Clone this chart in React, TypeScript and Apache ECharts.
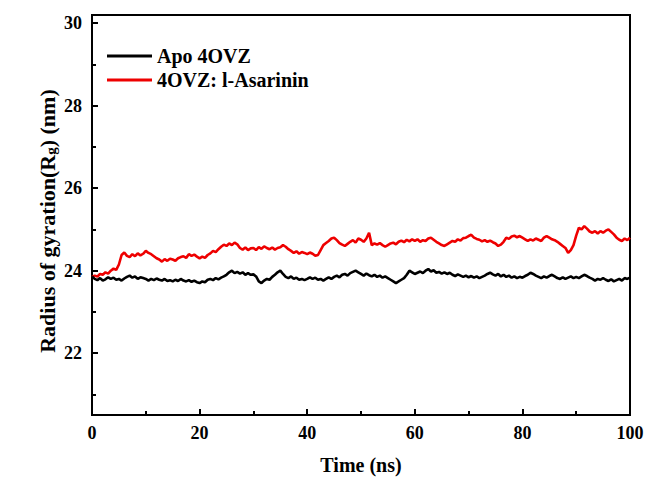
import React, { useEffect, useRef } from "react";
import * as echarts from "echarts";

const timeStep = 0.5; // ns between samples

const apoValues = [
  23.86, 23.8, 23.77, 23.82, 23.76, 23.79, 23.84, 23.8, 23.83, 23.78,
  23.8, 23.76, 23.81, 23.85, 23.88, 23.83, 23.86, 23.8, 23.84, 23.82,
  23.8, 23.76, 23.8, 23.77, 23.81, 23.78, 23.76, 23.8, 23.75, 23.77,
  23.74, 23.78, 23.75, 23.8, 23.76, 23.74, 23.77, 23.73, 23.76, 23.72,
  23.7, 23.74, 23.72, 23.78, 23.8, 23.77, 23.82, 23.79, 23.83, 23.86,
  23.9, 23.96, 24.0, 23.94, 23.97, 23.93, 23.96, 23.9, 23.94, 23.9,
  23.91, 23.86, 23.74, 23.7, 23.76, 23.8, 23.78, 23.85, 23.9, 23.96,
  24.0, 23.92, 23.85, 23.82, 23.86, 23.8, 23.83, 23.78, 23.8, 23.77,
  23.8, 23.84, 23.8, 23.83, 23.78, 23.8, 23.76, 23.8, 23.84, 23.8,
  23.85, 23.88, 23.84, 23.9, 23.92, 23.88, 23.94, 23.97, 24.0, 23.96,
  23.92, 23.88, 23.93, 23.89, 23.86, 23.9, 23.85, 23.88, 23.83, 23.86,
  23.82, 23.78, 23.74, 23.7, 23.74, 23.78, 23.82, 23.9, 24.0, 23.96,
  23.92, 23.95, 23.98, 23.94, 24.0, 24.04, 23.98, 24.01, 23.95, 23.97,
  23.93, 23.96, 23.92, 23.95, 23.9, 23.87, 23.91, 23.88, 23.85, 23.88,
  23.84, 23.87, 23.83, 23.86, 23.82, 23.85, 23.88, 23.92, 23.95, 23.91,
  23.88, 23.92, 23.86, 23.9, 23.85, 23.88, 23.83, 23.86, 23.82, 23.85,
  23.83, 23.87, 23.9, 23.95, 23.92, 23.88, 23.85, 23.82, 23.86, 23.83,
  23.87, 23.9, 23.86, 23.82, 23.8, 23.84, 23.8, 23.83, 23.86, 23.82,
  23.85, 23.82, 23.86, 23.9, 23.87, 23.83, 23.8, 23.76, 23.8, 23.78,
  23.82, 23.78, 23.75, 23.79, 23.74, 23.77, 23.8, 23.76, 23.82, 23.8,
  23.83,
];

const ligandValues = [
  23.85, 23.88, 23.86, 23.92, 23.9, 23.96, 23.93, 24.0, 24.05, 24.02,
  24.15, 24.38, 24.44, 24.36, 24.33, 24.4, 24.35, 24.42, 24.37, 24.41,
  24.48, 24.43, 24.4, 24.35, 24.3, 24.27, 24.22, 24.28, 24.24, 24.29,
  24.27, 24.24, 24.3, 24.33, 24.35, 24.31, 24.4, 24.36, 24.39, 24.34,
  24.3, 24.34, 24.31, 24.38, 24.42, 24.48, 24.45, 24.52, 24.58, 24.63,
  24.6, 24.66, 24.62, 24.68, 24.64, 24.55, 24.51, 24.56, 24.5, 24.54,
  24.55, 24.5, 24.57, 24.53, 24.59, 24.55, 24.52, 24.56, 24.51, 24.55,
  24.57, 24.62, 24.58, 24.52, 24.48, 24.43, 24.47, 24.41, 24.45, 24.43,
  24.4, 24.44, 24.41, 24.36, 24.38, 24.5, 24.62, 24.67, 24.72, 24.78,
  24.8, 24.74, 24.67, 24.63, 24.6, 24.65, 24.7, 24.74, 24.68, 24.78,
  24.75, 24.7, 24.78, 24.92, 24.62, 24.66, 24.63, 24.67, 24.62, 24.58,
  24.62, 24.66, 24.68, 24.64, 24.7, 24.73, 24.69, 24.75, 24.71, 24.76,
  24.72, 24.76, 24.7, 24.74, 24.72, 24.78, 24.8, 24.75, 24.7, 24.66,
  24.62, 24.6, 24.64, 24.68, 24.72, 24.7, 24.76, 24.73, 24.79, 24.8,
  24.84, 24.87, 24.8, 24.77, 24.75, 24.71, 24.74, 24.7, 24.73, 24.69,
  24.66, 24.6, 24.63, 24.7, 24.8, 24.77, 24.83, 24.85, 24.81, 24.84,
  24.8, 24.76, 24.72, 24.76, 24.73, 24.78, 24.75, 24.72, 24.8, 24.84,
  24.8, 24.76, 24.74, 24.7, 24.65, 24.6, 24.55, 24.43, 24.5, 24.62,
  24.85, 25.04, 25.0, 25.08, 25.02, 24.95, 24.92, 24.96, 24.9, 24.96,
  24.92, 24.97, 25.0, 24.94, 24.88, 24.8, 24.75, 24.72, 24.78, 24.74,
  24.8,
];

const seriesNames = ["Apo 4OVZ", "4OVZ: l-Asarinin"];
const seriesColors = ["#000000", "#ee0000"];
const yMajorTicks = [22, 24, 26, 28, 30];
const yMinorTicks = [21, 23, 25, 27, 29];
const xAxisTitle = "Time (ns)";

const FONT = "'Liberation Serif', 'Times New Roman', serif";

function toPairs(values: number[]) {
  return values.map((v, i) => [i * timeStep, v]);
}

export default function App() {
  const ref = useRef<HTMLDivElement>(null);
  useEffect(() => {
    document.body.style.margin = "0";
    if (!ref.current) return;
    const chart = echarts.init(ref.current, null, { renderer: "svg" });
    const axisLine = { show: true, lineStyle: { color: "#000", width: 2 } };
    chart.setOption({
      animation: false,
      backgroundColor: "#fff",
      grid: {
        left: 92,
        right: 18,
        top: 15,
        bottom: 63,
        show: true,
        borderColor: "#000",
        borderWidth: 2,
        backgroundColor: "transparent",
      },
      legend: {
        left: 107,
        top: 46,
        padding: 0,
        orient: "vertical",
        icon: "rect",
        itemWidth: 45,
        itemHeight: 3,
        itemGap: 4,
        textStyle: { fontFamily: FONT, fontWeight: "bold", fontSize: 20, color: "#000" },
        data: seriesNames,
      },
      xAxis: {
        type: "value",
        min: 0,
        max: 100,
        interval: 20,
        name: xAxisTitle,
        nameLocation: "middle",
        nameGap: 40,
        nameTextStyle: { fontFamily: FONT, fontWeight: "bold", fontSize: 20, color: "#000" },
        axisLine,
        axisTick: { show: true, inside: true, length: 6, lineStyle: { color: "#000", width: 2 } },
        minorTick: { show: true, splitNumber: 2, length: 4, lineStyle: { color: "#000", width: 2 } },
        axisLabel: { fontFamily: FONT, fontWeight: "bold", fontSize: 18, color: "#000", margin: 9 },
        splitLine: { show: false },
      },
      yAxis: [
        {
          type: "value",
          min: 20.5,
          max: 30.2,
          axisLine,
          axisTick: { show: true, inside: true, length: 6, customValues: yMajorTicks, lineStyle: { color: "#000", width: 2 } },
          axisLabel: { fontFamily: FONT, fontWeight: "bold", fontSize: 18, color: "#000", margin: 10, customValues: yMajorTicks },
          splitLine: { show: false },
        },
        {
          type: "value",
          min: 20.5,
          max: 30.2,
          position: "left",
          axisLine: { show: false },
          axisTick: { show: true, inside: true, length: 4, customValues: yMinorTicks, lineStyle: { color: "#000", width: 2 } },
          axisLabel: { show: false },
          splitLine: { show: false },
        },
      ],
      graphic: [
        {
          type: "text",
          x: 44,
          y: 221,
          rotation: Math.PI / 2,
          style: {
            text: "{a|Radius of gyration(R}{s|g}{a|) (nm)}",
            align: "center",
            verticalAlign: "middle",
            fill: "#000",
            rich: {
              a: { fontFamily: FONT, fontWeight: "bold", fontSize: 22, lineHeight: 28, verticalAlign: "bottom", fill: "#000" },
              s: { fontFamily: FONT, fontWeight: "bold", fontSize: 15, lineHeight: 28, verticalAlign: "bottom", padding: [12, 0, 0, 0], fill: "#000" },
            },
          },
        },
      ],
      series: [
        {
          name: seriesNames[0],
          type: "line",
          data: toPairs(apoValues),
          showSymbol: false,
          color: seriesColors[0],
          lineStyle: { width: 2.6, color: seriesColors[0] },
          z: 3,
        },
        {
          name: seriesNames[1],
          type: "line",
          data: toPairs(ligandValues),
          showSymbol: false,
          color: seriesColors[1],
          lineStyle: { width: 2.6, color: seriesColors[1] },
          z: 2,
        },
      ],
    });
    return () => chart.dispose();
  }, []);
  return <div ref={ref} style={{ width: 648, height: 480 }} />;
}
